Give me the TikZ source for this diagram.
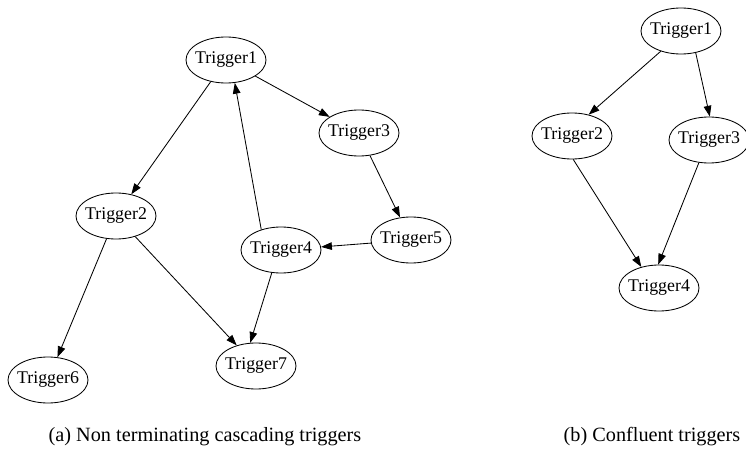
\documentclass[tikz,border=0pt]{standalone}
\usepackage{fontspec}
\setmainfont{Liberation Serif}
\usetikzlibrary{shapes.geometric,arrows.meta}
\begin{document}
\begin{tikzpicture}[x=0.025cm,y=-0.025cm,
        trig/.style={draw,ellipse,line width=0.6pt,minimum width=2cm,minimum height=1.15cm,inner xsep=-0.09cm,inner ysep=0pt,font=\fontsize{12.7}{15}\selectfont},
        edge/.style={-{Triangle[length=0.27cm,width=0.19cm]},line width=0.6pt},
        subcap/.style={font=\fontsize{14.4}{17}\selectfont}]
        \useasboundingbox (0,0) rectangle (746,474);
        % (a) non terminating
        \node[trig] (a1) at (226,60) {Trigger1};
        \node[trig] (a2) at (116,216) {Trigger2};
        \node[trig] (a3) at (359,133) {Trigger3};
        \node[trig] (a4) at (281,250) {Trigger4};
        \node[trig] (a5) at (411,240) {Trigger5};
        \node[trig] (a6) at (48,380) {Trigger6};
        \node[trig] (a7) at (256,366) {Trigger7};
        \draw[edge] (a1) -- (a2);
        \draw[edge] (a1) -- (a3);
        \draw[edge] (a3) -- (a5);
        \draw[edge] (a5) -- (a4);
        \draw[edge] (a4.134) -- (a1.-69);
        \draw[edge] (a4.-112) -- (a7.104);
        \draw[edge] (a2) -- (a6);
        \draw[edge] (a2) -- (a7);
        % (b) confluent
        \node[trig] (b1) at (681,31) {Trigger1};
        \node[trig] (b2) at (572,136) {Trigger2};
        \node[trig] (b3) at (709,140) {Trigger3};
        \node[trig] (b4) at (659,288) {Trigger4};
        \draw[edge] (b1.-135) -- (b2.52);
        \draw[edge] (b1.-56) -- (b3.88);
        \draw[edge] (b2.-87) -- (b4.130);
        \draw[edge] (b3.-114) -- (b4.92);
        \node[subcap] (capa) at (205,437) {(a) Non terminating cascading triggers};
        \node[subcap] (capb) at (652,437) {(b) Confluent triggers};
    \end{tikzpicture}
\end{document}
